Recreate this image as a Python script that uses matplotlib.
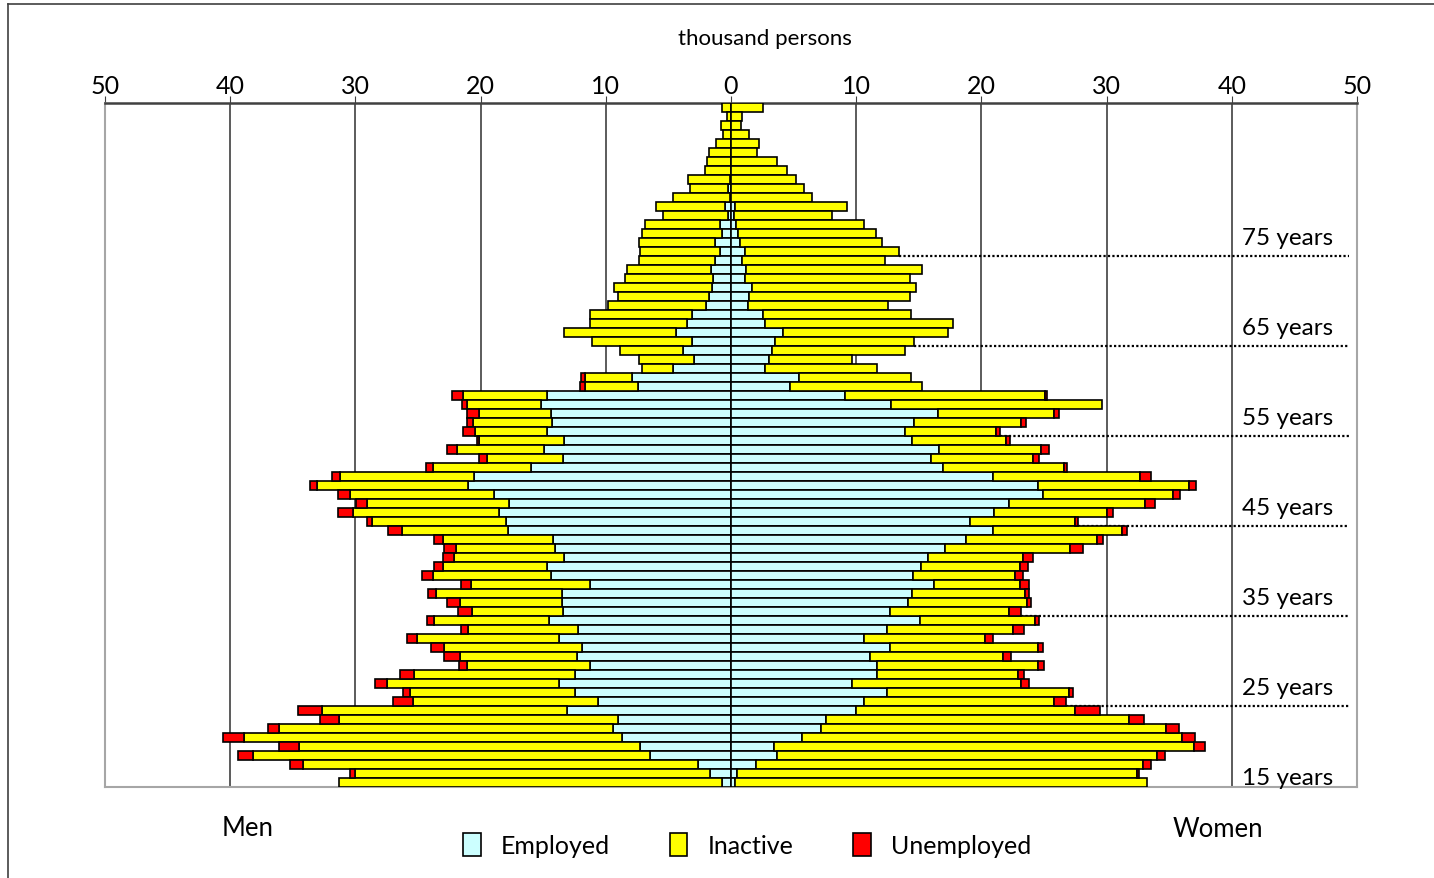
import matplotlib.pyplot as plt
import numpy as np
from matplotlib.patches import Patch
from matplotlib.lines import Line2D

plt.rcParams['font.family'] = ['Lato', 'DejaVu Sans']

# ages from the top bar (90) down to the bottom bar (15)
ages = list(range(90, 14, -1))

men_employed = [0, 0, 0, 0, 0, 0, 0, 0, 0.1, 0.25, 0.1, 0.5, 0.2, 0.85, 0.7, 1.24, 0.9, 1.24, 1.56, 1.4,
                1.5, 1.73, 2.0, 3.13, 3.5, 4.43, 3.13, 3.84, 2.96, 4.6, 7.9, 7.46, 14.7, 15.15, 14.36, 14.27, 14.7, 13.3, 14.9, 13.4,
                16.0, 20.55, 20.98, 18.93, 17.75, 18.5, 17.95, 17.85, 14.2, 14.07, 13.3, 14.7, 14.36, 11.3, 13.5, 13.5, 13.4, 14.5, 12.25, 13.7,
                11.9, 12.3, 11.27, 12.44, 13.7, 12.44, 10.6, 13.1, 9.05, 9.4, 8.73, 7.23, 6.5, 2.6, 1.66, 0.7]
men_inactive = [0.7, 0.3, 0.8, 0.6, 1.2, 1.75, 1.9, 2.05, 3.35, 3.0, 4.55, 5.46, 5.2, 6.05, 6.43, 6.09, 6.33, 6.12, 6.74, 7.04,
                7.88, 7.33, 7.8, 8.11, 7.74, 8.87, 7.97, 5.02, 4.37, 2.5, 3.76, 4.2, 6.73, 5.95, 5.77, 6.31, 5.75, 6.8, 7.0, 6.1,
                7.8, 10.65, 12.08, 11.53, 11.35, 11.66, 10.75, 8.4, 8.8, 7.93, 8.8, 8.3, 9.44, 9.5, 10.1, 8.16, 7.3, 9.2, 8.75, 11.4,
                11.0, 9.36, 9.83, 12.86, 13.76, 13.16, 14.8, 19.57, 22.22, 26.7, 30.17, 27.27, 31.64, 31.6, 28.34, 30.6]
men_unemployed = [0, 0, 0, 0, 0, 0, 0, 0, 0, 0, 0, 0, 0, 0, 0, 0, 0, 0, 0, 0,
                  0, 0, 0, 0, 0, 0, 0, 0, 0, 0, 0.34, 0.44, 0.85, 0.4, 0.94, 0.49, 0.95, 0.2, 0.8, 0.6,
                  0.6, 0.7, 0.54, 0.94, 0.87, 1.24, 0.35, 1.11, 0.7, 0.9, 0.9, 0.7, 0.9, 0.8, 0.6, 1.04, 1.1, 0.6, 0.6, 0.8,
                  1.1, 1.24, 0.6, 1.15, 0.94, 0.6, 1.6, 1.93, 1.53, 0.9, 1.65, 1.6, 1.21, 1.0, 0.45, 0]

women_employed = [0, 0, 0, 0, 0, 0, 0, 0, 0, 0, 0, 0.3, 0.2, 0.42, 0.55, 0.75, 1.14, 0.88, 1.2, 1.14,
                  1.66, 1.47, 1.37, 2.54, 2.74, 4.17, 3.5, 3.3, 3.0, 2.74, 5.45, 4.73, 9.13, 12.8, 16.5, 14.64, 13.9, 14.45, 16.6, 16.0,
                  16.96, 20.94, 24.5, 24.95, 22.24, 21.04, 19.1, 20.94, 18.75, 17.12, 15.7, 15.2, 14.5, 16.2, 14.45, 14.1, 12.7, 15.1, 12.46, 10.66,
                  12.7, 11.1, 11.64, 11.64, 9.7, 12.46, 10.66, 9.98, 7.6, 7.2, 5.67, 3.4, 3.7, 1.96, 0.5, 0.33]
women_inactive = [2.55, 0.88, 0.8, 1.4, 2.2, 2.05, 3.65, 4.44, 5.2, 5.84, 6.46, 9.0, 7.9, 10.18, 11.05, 11.35, 12.26, 11.42, 14.06, 13.16,
                  13.14, 12.83, 11.19, 11.86, 14.96, 13.13, 11.08, 10.56, 6.7, 8.96, 8.95, 10.53, 15.97, 16.85, 9.27, 8.52, 7.23, 7.5, 8.2, 8.1,
                  9.62, 11.74, 12.1, 10.34, 10.86, 9.03, 8.4, 10.31, 10.47, 9.98, 7.65, 7.9, 8.2, 6.9, 9.05, 9.55, 9.5, 9.2, 10.04, 9.59,
                  11.8, 10.6, 12.86, 11.26, 13.46, 14.51, 15.11, 17.52, 24.2, 27.57, 30.33, 33.58, 30.35, 30.98, 31.95, 32.87]
women_unemployed = [0, 0, 0, 0, 0, 0, 0, 0, 0, 0, 0, 0, 0, 0, 0, 0, 0, 0, 0, 0,
                    0, 0, 0, 0, 0, 0, 0, 0, 0, 0, 0, 0, 0.1, 0, 0.43, 0.39, 0.33, 0.33, 0.57, 0.5,
                    0.26, 0.88, 0.55, 0.55, 0.8, 0.43, 0.2, 0.39, 0.46, 1.05, 0.75, 0.6, 0.65, 0.7, 0.34, 0.29, 0.96, 0.3, 0.9, 0.65,
                    0.4, 0.64, 0.5, 0.5, 0.64, 0.33, 0.97, 1.95, 1.2, 1.03, 1.1, 0.89, 0.65, 0.62, 0.15, 0]

label_ages = [15, 25, 35, 45, 55, 65, 75]
xticks = list(range(-50, 51, 10))

c_emp, c_inac, c_unemp = '#ccffff', '#ffff00', '#ff0000'

W, H = 1434, 879
fig = plt.figure(figsize=(W / 100, H / 100), dpi=100)
ax = fig.add_axes([105 / W, 91 / H, (1357 - 105) / W, (788 - 104) / H])

y = np.array(ages)
me, mi, mu = np.array(men_employed), np.array(men_inactive), np.array(men_unemployed)
we, wi, wu = np.array(women_employed), np.array(women_inactive), np.array(women_unemployed)


def draw(vals, left, sign, color):
    m = vals > 0
    ax.barh(y[m], sign * vals[m], left=sign * left[m], height=1, color=color,
            edgecolor='black', linewidth=1.2, zorder=3)


zero = np.zeros(len(ages))
draw(me, zero, -1, c_emp)
draw(mi, me, -1, c_inac)
draw(mu, me + mi, -1, c_unemp)
draw(we, zero, 1, c_emp)
draw(wi, we, 1, c_inac)
draw(wu, we + wi, 1, c_unemp)

ax.set_xlim(-50, 50)
ax.set_ylim(14.5, 90.5)
ax.set_yticks([])
ax.xaxis.tick_top()
ax.set_xticks(xticks)
ax.set_xticklabels([str(abs(t)) for t in xticks], fontsize=18)
ax.tick_params(axis='x', direction='out', length=5, color='#404040', pad=-1)
for t in xticks[1:-1]:
    ax.axvline(t, color='black' if t == 0 else '#404040', lw=1.2, zorder=1)

for s in ['left', 'right', 'bottom']:
    ax.spines[s].set_color('#a6a6a6')
    ax.spines[s].set_linewidth(1.5)
ax.spines['top'].set_color('#404040')
ax.spines['top'].set_linewidth(1.8)

# age labels and dotted marker lines
women_total = we + wi + wu
for a in label_ages:
    ax.text(40.8, a + 0.5, f'{a} years', fontsize=17.5, va='center', ha='left', zorder=5)
    if a > 15:
        start = women_total[ages.index(a - 1)]
        ax.plot([start, 49.4], [a - 1.5, a - 1.5], color='black', lw=1.6,
                linestyle=(0, (1, 1)), zorder=2)

fig.text(765 / W, 1 - 39 / H, 'thousand persons', fontsize=16, ha='center', va='center')
fig.text(248 / W, 1 - 829 / H, 'Men', fontsize=18.5, ha='center', va='center')
fig.text(1218 / W, 1 - 830 / H, 'Women', fontsize=18.5, ha='center', va='center')

handles = [Patch(facecolor=c_emp, edgecolor='black', lw=1.2),
           Patch(facecolor=c_inac, edgecolor='black', lw=1.2),
           Patch(facecolor=c_unemp, edgecolor='black', lw=1.2)]
fig.legend(handles, ['Employed', 'Inactive', 'Unemployed'], loc='center',
           bbox_to_anchor=(747 / W, 1 - 846 / H), ncol=3, frameon=False, fontsize=18,
           handlelength=0.7, handleheight=1.0, columnspacing=2.4, handletextpad=0.8)

# outer chart border
fig.add_artist(Line2D([8 / W, 1], [1 - 5 / H, 1 - 5 / H], transform=fig.transFigure, color='#404040', lw=1.2))
fig.add_artist(Line2D([8 / W, 8 / W], [0, 1 - 5 / H], transform=fig.transFigure, color='#404040', lw=1.2))

fig.savefig('out.png', dpi=100)
